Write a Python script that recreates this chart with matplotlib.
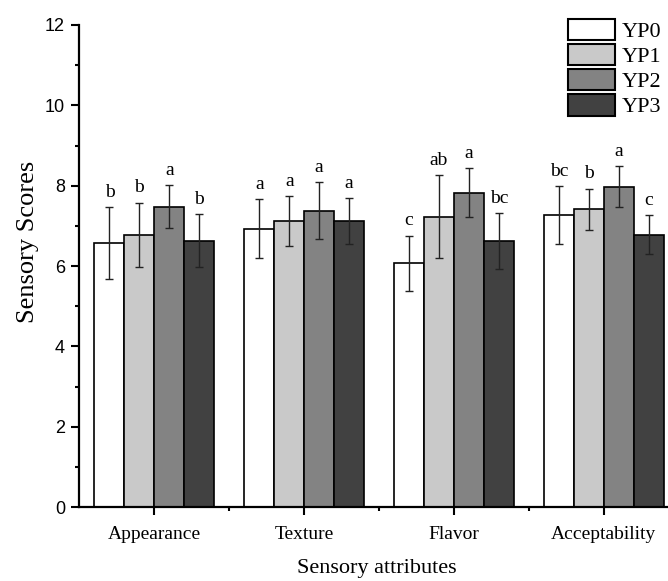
import numpy as np
import matplotlib.pyplot as plt
from matplotlib.ticker import MultipleLocator, FixedLocator

# sensory scores (mean, sd)
attributes = ['Appearance', 'Texture', 'Flavor', 'Acceptability']
samples = ['YP0', 'YP1', 'YP2', 'YP3']

yp0_mean = [6.57, 6.93, 6.07, 7.27]
yp1_mean = [6.78, 7.12, 7.23, 7.42]
yp2_mean = [7.48, 7.38, 7.83, 7.98]
yp3_mean = [6.63, 7.12, 6.62, 6.78]

yp0_sd = [0.90, 0.74, 0.69, 0.72]
yp1_sd = [0.80, 0.63, 1.03, 0.51]
yp2_sd = [0.54, 0.71, 0.60, 0.50]
yp3_sd = [0.66, 0.57, 0.70, 0.49]

yp0_sig = ['b', 'a', 'c', 'bc']
yp1_sig = ['b', 'a', 'ab', 'b']
yp2_sig = ['a', 'a', 'a', 'a']
yp3_sig = ['b', 'a', 'bc', 'c']

means = [yp0_mean, yp1_mean, yp2_mean, yp3_mean]
sds = [yp0_sd, yp1_sd, yp2_sd, yp3_sd]
sigs = [yp0_sig, yp1_sig, yp2_sig, yp3_sig]
colors = ['#ffffff', '#c9c9c9', '#838383', '#414141']

serif = 'Liberation Serif'
sans = 'Liberation Sans'

fig = plt.figure(figsize=(6.68, 5.81), dpi=100)
ax = fig.add_axes([0.119, 0.127, 0.897, 0.83])

x = np.arange(len(attributes))
width = 0.2
for i in range(len(samples)):
    pos = x + (i - 1.5) * width
    ax.bar(pos, means[i], width, color=colors[i], edgecolor='black',
           linewidth=1.2, label=samples[i], zorder=2)
    ax.errorbar(pos, means[i], yerr=sds[i], fmt='none', ecolor='#222222',
                elinewidth=1.0, capsize=3.2, capthick=1.0, zorder=3)
    for px, m, s, t in zip(pos, means[i], sds[i], sigs[i]):
        ax.annotate(t, (px, m + s), xytext=(0, 4.5), textcoords='offset points',
                    ha='center', va='bottom', fontsize=14, family=serif)

ax.set_xlim(-0.5, 3.5)
ax.set_ylim(0, 12)
ax.yaxis.set_major_locator(MultipleLocator(2))
ax.yaxis.set_minor_locator(MultipleLocator(1))
ax.set_xticks(x)
ax.set_xticklabels(attributes, family=serif, fontsize=14)
ax.xaxis.set_minor_locator(FixedLocator([0.5, 1.5, 2.5]))
for lab in ax.get_yticklabels():
    lab.set_family(sans)
    lab.set_fontsize(13)

ax.tick_params(axis='both', which='major', direction='out', length=5.5, width=1.5)
ax.tick_params(axis='both', which='minor', direction='out', length=3, width=1.5)
ax.tick_params(axis='y', which='major', pad=5)
ax.tick_params(axis='x', which='major', pad=8)
for side in ['top', 'right']:
    ax.spines[side].set_visible(False)
for side in ['left', 'bottom']:
    ax.spines[side].set_linewidth(1.6)

ax.set_ylabel('Sensory Scores', family=serif, fontsize=19)
ax.yaxis.set_label_coords(-0.068, 0.55)
ax.set_xlabel('Sensory attributes', family=serif, fontsize=16)
ax.xaxis.set_label_coords(0.497, -0.108)

leg = ax.legend(loc='upper right', bbox_to_anchor=(0.99, 0.968),
                bbox_transform=fig.transFigure, frameon=False,
                prop={'family': serif, 'size': 16}, handlelength=2.1,
                handleheight=1.12, labelspacing=0.08, handletextpad=0.3,
                borderpad=0, borderaxespad=0)
for p in leg.get_patches():
    p.set_linewidth(1.5)

fig.savefig('out.png', dpi=100)
